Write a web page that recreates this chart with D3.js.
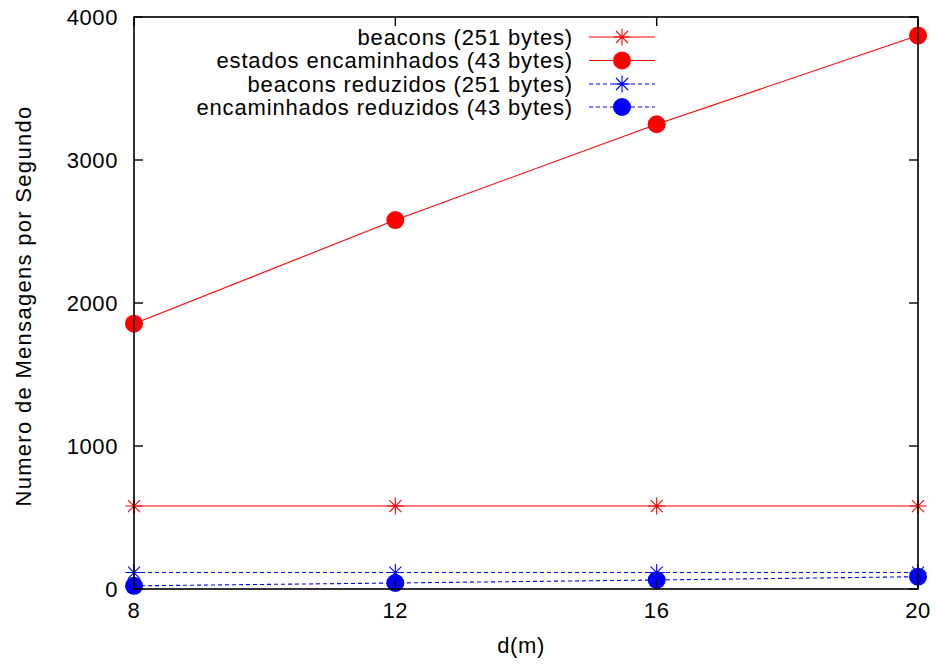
<!DOCTYPE html>
<html>
<head>
<meta charset="utf-8">
<script src="https://cdn.jsdelivr.net/npm/d3@7"></script>
<style>
  html, body { margin: 0; padding: 0; background: #fff; }
  svg { display: block; font-family: "Liberation Sans", Arial, sans-serif; }
</style>
</head>
<body>
<svg id="chart" width="937" height="664"></svg>
<script>
// Distance between nodes, d(m)
const distances = [8, 12, 16, 20];

// Messages per second for each scheme
const beacons = [580, 580, 580, 580];
const estadosEncaminhados = [1855, 2580, 3250, 3870];
const beaconsReduzidos = [115, 115, 115, 115];
const encaminhadosReduzidos = [22, 42, 63, 86];

const xTicks = [8, 12, 16, 20];
const yTicks = [0, 1000, 2000, 3000, 4000];

const seriesNames = [
  "beacons (251 bytes)",
  "estados encaminhados (43 bytes)",
  "beacons reduzidos (251 bytes)",
  "encaminhados reduzidos (43 bytes)"
];
const seriesValues = [beacons, estadosEncaminhados, beaconsReduzidos, encaminhadosReduzidos];
const seriesColors = ["#ff0000", "#ff0000", "#0000ff", "#0000ff"];
const seriesMarkers = ["star", "circle", "star", "circle"];
const seriesDashed = [false, false, true, true];

const svg = d3.select("#chart");
const plotLeft = 134, plotRight = 918, plotTop = 17, plotBottom = 589;

const x = d3.scaleLinear().domain([8, 20]).range([plotLeft, plotRight]);
const y = d3.scaleLinear().domain([0, 4000]).range([plotBottom, plotTop]);

const fontSize = 22;

function drawMarker(g, type, cx, cy, color) {
  if (type === "circle") {
    g.append("circle").attr("cx", cx).attr("cy", cy).attr("r", 9).attr("fill", color);
  } else {
    const s = 8.5, d = 6;
    const p = `M${cx - s},${cy}L${cx + s},${cy}M${cx},${cy - s}L${cx},${cy + s}` +
              `M${cx - d},${cy - d}L${cx + d},${cy + d}M${cx - d},${cy + d}L${cx + d},${cy - d}`;
    g.append("path").attr("d", p).attr("stroke", color).attr("stroke-width", 1.1).attr("fill", "none");
  }
}

// Series lines and markers
const line = d3.line().x((d, i) => x(distances[i])).y(d => y(d));
const plot = svg.append("g");
seriesValues.forEach((vals, k) => {
  plot.append("path")
    .datum(vals)
    .attr("d", line)
    .attr("fill", "none")
    .attr("stroke", seriesColors[k])
    .attr("stroke-width", 1.1)
    .attr("stroke-dasharray", seriesDashed[k] ? "4,3" : null);
});
seriesValues.forEach((vals, k) => {
  vals.forEach((v, i) => drawMarker(plot, seriesMarkers[k], x(distances[i]), y(v), seriesColors[k]));
});

// Frame with inward ticks on all sides
const frame = svg.append("g");
frame.append("rect")
  .attr("x", plotLeft).attr("y", plotTop)
  .attr("width", plotRight - plotLeft).attr("height", plotBottom - plotTop)
  .attr("fill", "none").attr("stroke", "#000").attr("stroke-width", 1.6);

const tickLen = 9;
yTicks.forEach(t => {
  frame.append("line").attr("x1", plotLeft).attr("x2", plotLeft + tickLen).attr("y1", y(t)).attr("y2", y(t))
    .attr("stroke", "#000").attr("stroke-width", 1.4);
  frame.append("line").attr("x1", plotRight).attr("x2", plotRight - tickLen).attr("y1", y(t)).attr("y2", y(t))
    .attr("stroke", "#000").attr("stroke-width", 1.4);
  frame.append("text").attr("x", plotLeft - 16).attr("y", y(t)).attr("dy", "0.35em")
    .attr("text-anchor", "end").attr("font-size", fontSize).attr("letter-spacing", 0.6).text(t);
});
xTicks.forEach(t => {
  frame.append("line").attr("x1", x(t)).attr("x2", x(t)).attr("y1", plotBottom).attr("y2", plotBottom - tickLen)
    .attr("stroke", "#000").attr("stroke-width", 1.4);
  frame.append("line").attr("x1", x(t)).attr("x2", x(t)).attr("y1", plotTop).attr("y2", plotTop + tickLen)
    .attr("stroke", "#000").attr("stroke-width", 1.4);
  frame.append("text").attr("x", x(t)).attr("y", 610).attr("dy", "0.35em")
    .attr("text-anchor", "middle").attr("font-size", fontSize).attr("letter-spacing", 0.6).text(t);
});

// Axis titles
svg.append("text").attr("x", 521).attr("y", 645).attr("dy", "0.35em")
  .attr("text-anchor", "middle").attr("font-size", fontSize).attr("letter-spacing", 0.6).text("d(m)");
svg.append("text")
  .attr("transform", "translate(23,306) rotate(-90)")
  .attr("dy", "0.35em").attr("text-anchor", "middle").attr("font-size", fontSize)
  .attr("letter-spacing", 1.3)
  .text("Numero de Mensagens por Segundo");

// Legend
const legend = svg.append("g");
const legendRows = [37, 60.5, 84, 107];
seriesNames.forEach((name, k) => {
  const ly = legendRows[k];
  legend.append("text").attr("x", 573).attr("y", ly).attr("dy", "0.35em")
    .attr("text-anchor", "end").attr("font-size", fontSize).attr("letter-spacing", 0.85).text(name);
  legend.append("line").attr("x1", 589).attr("x2", 655).attr("y1", ly).attr("y2", ly)
    .attr("stroke", seriesColors[k]).attr("stroke-width", 1.1)
    .attr("stroke-dasharray", seriesDashed[k] ? "4,3" : null);
  drawMarker(legend, seriesMarkers[k], 622, ly, seriesColors[k]);
});
</script>
</body>
</html>
